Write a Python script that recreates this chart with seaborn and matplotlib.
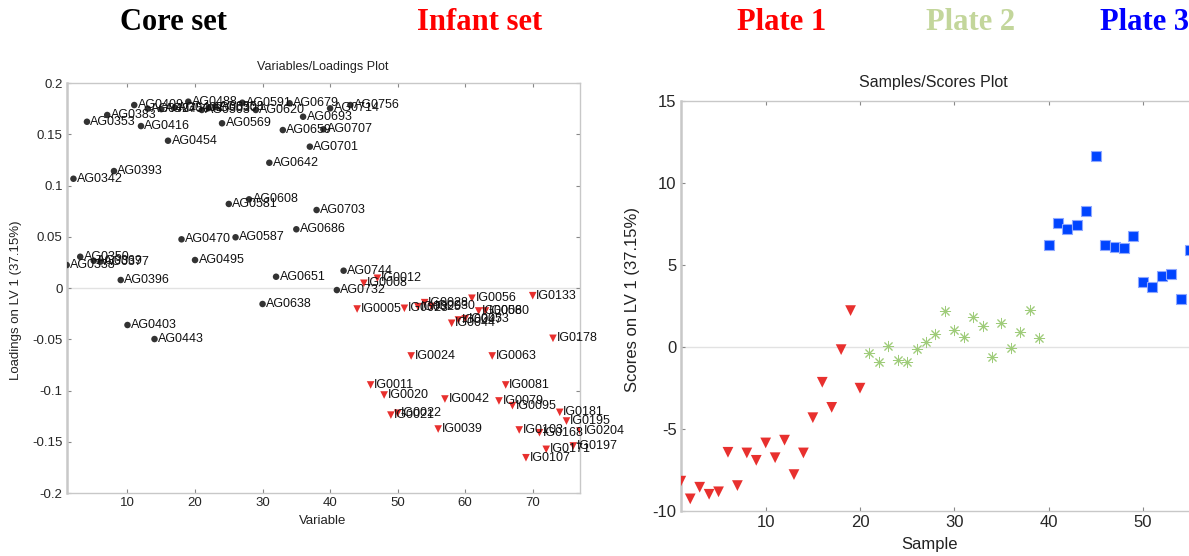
import matplotlib
matplotlib.use("Agg")
import matplotlib.pyplot as plt
import seaborn as sns
import pandas as pd

# ---------------- data ----------------
core_labels = ["AG0338", "AG0342", "AG0350", "AG0353", "AG0369", "AG0377", "AG0383", "AG0393",
               "AG0396", "AG0403", "AG0409", "AG0416", "AG0427", "AG0443", "AG0450", "AG0454",
               "AG0462", "AG0470", "AG0488", "AG0495", "AG0503", "AG0530", "AG0558", "AG0569",
               "AG0581", "AG0587", "AG0591", "AG0608", "AG0620", "AG0638", "AG0642", "AG0651",
               "AG0659", "AG0679", "AG0686", "AG0693", "AG0701", "AG0703", "AG0707", "AG0714",
               "AG0732", "AG0744", "AG0756"]
core_vals = [0.0224, 0.1066, 0.0305, 0.1622, 0.0266, 0.0257, 0.1688, 0.1141,
             0.0078, -0.0361, 0.1785, 0.158, 0.175, -0.0498, 0.1745, 0.1437,
             0.176, 0.0475, 0.1818, 0.0273, 0.1737, 0.1755, 0.1765, 0.1607,
             0.082, 0.0495, 0.1808, 0.0865, 0.1737, -0.0156, 0.1222, 0.011,
             0.1541, 0.1802, 0.0573, 0.1671, 0.1379, 0.0761, 0.1548, 0.1753,
             -0.002, 0.0169, 0.1785]

infant_labels = ["IG0005", "IG0008", "IG0011", "IG0012", "IG0020", "IG0021", "IG0022", "IG0023",
                 "IG0024", "IG0025", "IG0028", "IG0030", "IG0039", "IG0042", "IG0044", "IG0047",
                 "IG0053", "IG0056", "IG0058", "IG0060", "IG0063", "IG0079", "IG0081", "IG0095",
                 "IG0103", "IG0107", "IG0133", "IG0168", "IG0171", "IG0178", "IG0181", "IG0195",
                 "IG0197", "IG0204"]
infant_vals = [-0.0205, 0.0046, -0.0946, 0.0095, -0.1044, -0.124, -0.1222, -0.0198,
               -0.0663, -0.0182, -0.0143, -0.018, -0.1376, -0.1083, -0.0344, -0.0312,
               -0.030, -0.010, -0.0224, -0.0224, -0.0663, -0.1102, -0.0946, -0.1148,
               -0.1385, -0.1656, -0.0075, -0.1412, -0.1574, -0.0491, -0.1213, -0.1298,
               -0.1541, -0.1395]

plate1_scores = [-8.2, -9.28, -8.57, -9.0, -8.85, -6.44, -8.47, -6.48, -6.93, -5.87,
                 -6.77, -5.7, -7.8, -6.48, -4.33, -2.17, -3.7, -0.18, 2.2, -2.53]
plate2_scores = [-0.39, -0.96, 0.06, -0.8, -0.96, -0.14, 0.31, 0.8, 2.17, 1.04,
                 0.6, 1.78, 1.29, -0.63, 1.45, -0.06, 0.88, 2.23, 0.51]
plate3_scores = [6.21, 7.57, 7.18, 7.42, 8.26, 11.64, 6.21, 6.1, 6.03, 6.73,
                 3.95, 3.64, 4.28, 4.46, 2.93, 5.9]

left_yticks = [0.2, 0.15, 0.1, 0.05, 0, -0.05, -0.1, -0.15, -0.2]
left_yticklabels = ["0.2", "0.15", "0.1", "0.05", "0", "-0.05", "-0.1", "-0.15", "-0.2"]
left_xticks = [10, 20, 30, 40, 50, 60, 70]
right_yticks = [-10, -5, 0, 5, 10, 15]
right_xticks = [10, 20, 30, 40, 50]

# ---------------- frames ----------------
n_core = len(core_labels)
core_df = pd.DataFrame({"Variable": list(range(1, n_core + 1)), "Loading": core_vals,
                        "Name": core_labels})
infant_df = pd.DataFrame({"Variable": list(range(n_core + 1, n_core + 1 + len(infant_labels))),
                          "Loading": infant_vals, "Name": infant_labels})
n1, n2, n3 = len(plate1_scores), len(plate2_scores), len(plate3_scores)
p1 = pd.DataFrame({"Sample": list(range(1, n1 + 1)), "Score": plate1_scores})
p2 = pd.DataFrame({"Sample": list(range(n1 + 1, n1 + n2 + 1)), "Score": plate2_scores})
p3 = pd.DataFrame({"Sample": list(range(n1 + n2 + 1, n1 + n2 + n3 + 1)), "Score": plate3_scores})

# ---------------- style ----------------
sns.set_theme(style="white")
plt.rcParams["font.family"] = ["Liberation Sans", "DejaVu Sans"]

fig = plt.figure(figsize=(11.89, 5.56), dpi=100)
axL = fig.add_axes([0.0561, 0.1133, 0.4317, 0.7374])
axR = fig.add_axes([0.5726, 0.0815, 0.4362, 0.7374])

spine_col = "#c8c8c8"
for ax in (axL, axR):
    for s in ax.spines.values():
        s.set_color(spine_col)
        s.set_linewidth(1.0)
    ax.spines["left"].set_linewidth(1.8)
    ax.tick_params(direction="in", length=3, width=0.8, color="#888888",
                   top=True, right=True, bottom=True, left=True, pad=3)
    ax.axhline(0, color="#e2e2e2", lw=1.0, zorder=0)

# ---------------- left: loadings ----------------
sns.scatterplot(data=core_df, x="Variable", y="Loading", ax=axL, color="#333333",
                marker="o", s=22, edgecolor="none", zorder=3, legend=False)
sns.scatterplot(data=infant_df, x="Variable", y="Loading", ax=axL, color="#e8302e",
                marker="v", s=30, edgecolor="none", zorder=3, legend=False)
for df in (core_df, infant_df):
    for xv, yv, nm in zip(df["Variable"], df["Loading"], df["Name"]):
        axL.annotate(nm, (xv, yv), xytext=(2.5, 0), textcoords="offset points",
                     va="center", ha="left", fontsize=9, color="#111111", zorder=4)

axL.set_xlim(1, 77)
axL.set_ylim(-0.2, 0.2)
axL.set_yticks(left_yticks)
axL.set_yticklabels(left_yticklabels, fontsize=9.5)
axL.set_xticks(left_xticks)
axL.set_xticklabels([str(t) for t in left_xticks], fontsize=9.5)
axL.set_xlabel("")
axL.set_ylabel("")

fig.text(323 / 1189, 1 - 67 / 556, "Variables/Loadings Plot", ha="center", va="center",
         fontsize=9, color="#222222")
fig.text(323 / 1189, 1 - 521 / 556, "Variable", ha="center", va="center",
         fontsize=9.5, color="#222222")
fig.text(16 / 1189, 1 - 300 / 556, "Loadings on LV 1 (37.15%)", ha="center", va="center",
         rotation=90, fontsize=9.5, color="#222222")

# ---------------- right: scores ----------------
sns.scatterplot(data=p1, x="Sample", y="Score", ax=axR, color="#e8302e", marker="v",
                s=60, edgecolor="none", zorder=3, legend=False)
sns.scatterplot(data=p2, x="Sample", y="Score", ax=axR, color="#9fcc7a", marker=(8, 2, 0),
                s=55, linewidth=0.7, zorder=3, legend=False)
sns.scatterplot(data=p3, x="Sample", y="Score", ax=axR, color="#0044ff", marker="s",
                s=55, edgecolor="#8fa8ff", linewidth=0.8, zorder=3, legend=False)

axR.set_xlim(1, 56)
axR.set_ylim(-10, 15)
axR.set_yticks(right_yticks)
axR.set_yticklabels([str(t) for t in right_yticks], fontsize=12)
axR.set_xticks(right_xticks)
axR.set_xticklabels([str(t) for t in right_xticks], fontsize=12)
axR.set_xlabel("")
axR.set_ylabel("")

fig.text(933 / 1189, 1 - 82 / 556, "Samples/Scores Plot", ha="center", va="center",
         fontsize=11.5, color="#222222")
fig.text(930 / 1189, 1 - 545 / 556, "Sample", ha="center", va="center",
         fontsize=12, color="#222222")
fig.text(632 / 1189, 1 - 300 / 556, "Scores on LV 1 (37.15%)", ha="center", va="center",
         rotation=90, fontsize=12, color="#222222")

# ---------------- headings ----------------
head_font = dict(fontsize=22, fontweight="bold", family=["Liberation Serif", "DejaVu Serif"],
                 ha="center", va="center")
fig.text(174 / 1189, 1 - 23 / 556, "Core set", color="black", **head_font)
fig.text(480 / 1189, 1 - 23 / 556, "Infant set", color="#ff0000", **head_font)
fig.text(782 / 1189, 1 - 23 / 556, "Plate 1", color="#ff0000", **head_font)
fig.text(971 / 1189, 1 - 23 / 556, "Plate 2", color="#c3d69b", **head_font)
fig.text(1145 / 1189, 1 - 23 / 556, "Plate 3", color="#0000ff", **head_font)

fig.savefig("out.png", dpi=100)
